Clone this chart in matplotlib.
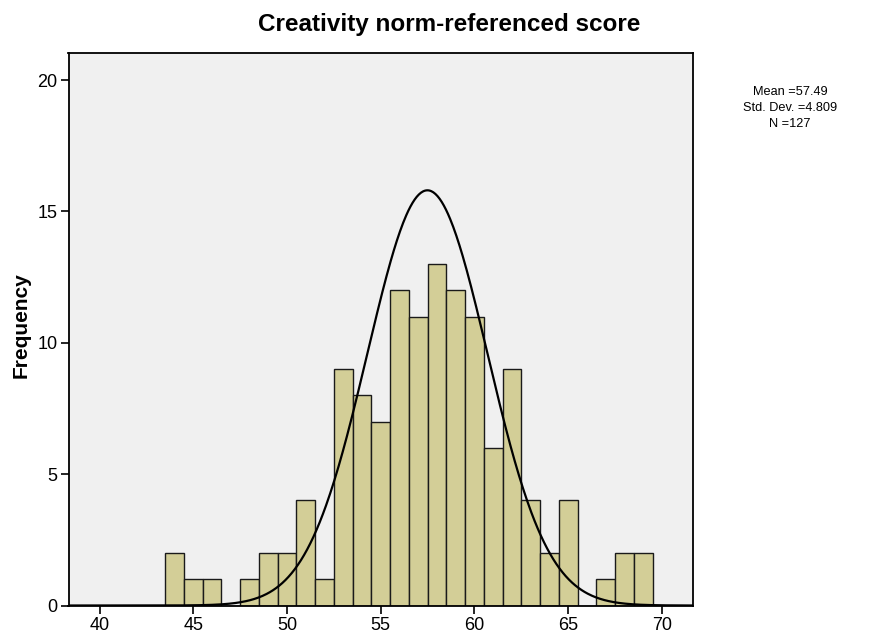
import numpy as np
import matplotlib
matplotlib.use("Agg")
import matplotlib.pyplot as plt

plt.rcParams['font.family'] = ['Liberation Sans', 'DejaVu Sans']

# Histogram of creativity scores (bin centres and counts, bin width 1)
bin_centers = [44, 45, 46, 47, 48, 49, 50, 51, 52, 53, 54, 55, 56, 57,
               58, 59, 60, 61, 62, 63, 64, 65, 66, 67, 68, 69]
counts = [2, 1, 1, 0, 1, 2, 2, 4, 1, 9, 8, 7, 12, 11,
          13, 12, 11, 6, 9, 4, 2, 4, 0, 1, 2, 2]

mean_val = 57.49
std_val = 4.809
n_val = 127
x_ticks = [40, 45, 50, 55, 60, 65, 70]
y_ticks = [0, 5, 10, 15, 20]

W, H = 869, 634
fig = plt.figure(figsize=(W / 100, H / 100), dpi=100)
ax = fig.add_axes([68.5 / W, 1 - 605.5 / H, (693 - 68.5) / W, (605.5 - 53) / H])
ax.set_facecolor('#F0F0F0')

ax.bar(bin_centers, counts, width=1.0, color='#D3CE97',
       edgecolor='#1a1a1a', linewidth=1.0, zorder=2)

# Normal curve overlay (drawn with the chart's scaling factor of 1.5)
xs = np.linspace(38.34, 71.66, 600)
s_curve = std_val / 1.5
ys = n_val / (s_curve * np.sqrt(2 * np.pi)) * np.exp(-0.5 * ((xs - mean_val) / s_curve) ** 2)
ax.plot(xs, ys, color='black', linewidth=1.6, zorder=3)

ax.set_xlim(38.34, 71.66)
ax.set_ylim(0, 21.03)
ax.set_xticks(x_ticks)
ax.set_yticks(y_ticks)
ax.tick_params(axis='both', direction='out', length=6, width=1.2,
               labelsize=13, color='black', pad=2)
for sp in ax.spines.values():
    sp.set_linewidth(1.3)
    sp.set_color('black')
    sp.set_zorder(4)

fig.text(21 / W, 1 - 325 / H, 'Frequency', rotation=90,
         ha='center', va='center', fontsize=15, fontweight='bold')

fig.text(449 / W, 1 - 24 / H, 'Creativity norm-referenced score',
         ha='center', va='center', fontsize=17.5, fontweight='bold')

fig.text(790 / W, 1 - 108 / H,
         'Mean =%.2f\nStd. Dev. =%.3f\nN =%d' % (mean_val, std_val, n_val),
         ha='center', va='center', fontsize=9.2, linespacing=1.45)

fig.savefig('out.png', dpi=100)
